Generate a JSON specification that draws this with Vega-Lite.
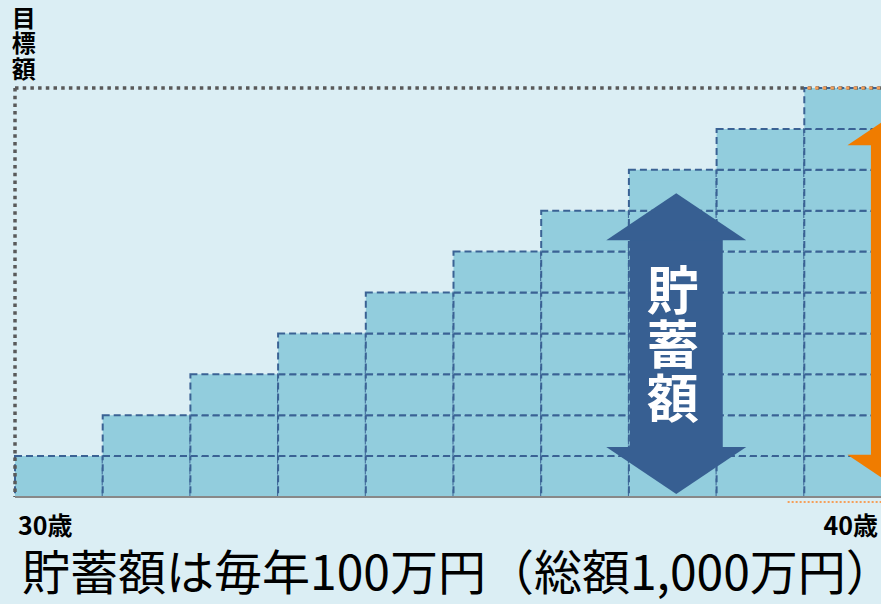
{
  "$schema": "https://vega.github.io/schema/vega-lite/v6.json",
  "width": 866,
  "height": 409,
  "autosize": "none",
  "padding": {"left": 15, "top": 88, "right": 0, "bottom": 107},
  "background": "#dbeef4",
  "config": {"view": {"stroke": null}, "font": "Noto Sans CJK JP"},
  "resolve": {"scale": {"x": "independent"}},
  "layer": [
    {
      "data": {"values": [
        {"age": 30, "amount": 100},
        {"age": 31, "amount": 100}, {"age": 31, "amount": 100},
        {"age": 32, "amount": 100}, {"age": 32, "amount": 100}, {"age": 32, "amount": 100},
        {"age": 33, "amount": 100}, {"age": 33, "amount": 100}, {"age": 33, "amount": 100}, {"age": 33, "amount": 100},
        {"age": 34, "amount": 100}, {"age": 34, "amount": 100}, {"age": 34, "amount": 100}, {"age": 34, "amount": 100}, {"age": 34, "amount": 100},
        {"age": 35, "amount": 100}, {"age": 35, "amount": 100}, {"age": 35, "amount": 100}, {"age": 35, "amount": 100}, {"age": 35, "amount": 100}, {"age": 35, "amount": 100},
        {"age": 36, "amount": 100}, {"age": 36, "amount": 100}, {"age": 36, "amount": 100}, {"age": 36, "amount": 100}, {"age": 36, "amount": 100}, {"age": 36, "amount": 100}, {"age": 36, "amount": 100},
        {"age": 37, "amount": 100}, {"age": 37, "amount": 100}, {"age": 37, "amount": 100}, {"age": 37, "amount": 100}, {"age": 37, "amount": 100}, {"age": 37, "amount": 100}, {"age": 37, "amount": 100}, {"age": 37, "amount": 100},
        {"age": 38, "amount": 100}, {"age": 38, "amount": 100}, {"age": 38, "amount": 100}, {"age": 38, "amount": 100}, {"age": 38, "amount": 100}, {"age": 38, "amount": 100}, {"age": 38, "amount": 100}, {"age": 38, "amount": 100}, {"age": 38, "amount": 100},
        {"age": 39, "amount": 100}, {"age": 39, "amount": 100}, {"age": 39, "amount": 100}, {"age": 39, "amount": 100}, {"age": 39, "amount": 100}, {"age": 39, "amount": 100}, {"age": 39, "amount": 100}, {"age": 39, "amount": 100}, {"age": 39, "amount": 100}, {"age": 39, "amount": 100}
      ]},
      "mark": {"type": "bar", "fill": "#92cddd", "stroke": "#3a6294", "strokeWidth": 2, "strokeDash": [7, 4], "opacity": 1},
      "encoding": {
        "x": {"field": "age", "type": "ordinal", "scale": {"range": [0, 877], "paddingInner": 0, "paddingOuter": 0}, "axis": null},
        "y": {"field": "amount", "type": "quantitative", "stack": "zero", "scale": {"domain": [0, 1000], "nice": false, "zero": true}, "axis": null}
      }
    },
    {
      "data": {"values": [{"target": 1000}]},
      "layer": [
        {
          "mark": {"type": "rule", "color": "#595959", "strokeWidth": 3.5, "strokeDash": [3.5, 4.2]},
          "encoding": {
            "x": {"datum": 30, "type": "quantitative", "scale": {"domain": [30, 40], "range": [0, 877], "nice": false, "zero": false}, "axis": null},
            "x2": {"datum": 40.5},
            "y": {"datum": 1000, "type": "quantitative", "scale": {"domain": [0, 1000], "nice": false}, "axis": null}
          }
        },
        {
          "mark": {"type": "rule", "color": "#595959", "strokeWidth": 3.5, "strokeDash": [3.5, 4.2]},
          "encoding": {
            "x": {"datum": 30, "type": "quantitative"},
            "y": {"datum": 1000, "type": "quantitative"},
            "y2": {"datum": 0}
          }
        },
        {
          "mark": {"type": "rule", "color": "#888888", "strokeWidth": 2},
          "encoding": {
            "x": {"datum": 30, "type": "quantitative"},
            "x2": {"datum": 40.5},
            "y": {"datum": 0, "type": "quantitative"}
          }
        },
        {
          "mark": {"type": "rule", "color": "#f5a05a", "strokeWidth": 3, "strokeDash": [3.5, 4.2], "strokeDashOffset": 3.85},
          "encoding": {
            "x": {"datum": 38.99, "type": "quantitative"},
            "x2": {"datum": 40.5},
            "y": {"datum": 1000, "type": "quantitative"}
          }
        },
        {
          "mark": {"type": "rule", "color": "#f5a05a", "strokeWidth": 2, "strokeDash": [2, 2]},
          "encoding": {
            "x": {"datum": 38.81, "type": "quantitative"},
            "x2": {"datum": 40.5},
            "y": {"datum": -12, "type": "quantitative"}
          }
        },
        {
          "mark": {"type": "rule", "color": "#375f92", "strokeWidth": 93, "strokeCap": "butt"},
          "encoding": {
            "x": {"datum": 37.54, "type": "quantitative"},
            "y": {"datum": 122, "type": "quantitative"},
            "y2": {"datum": 630}
          }
        },
        {
          "mark": {"type": "point", "shape": "M -1 0 L 0 -0.67 L 1 0 Z", "size": 19600, "filled": true, "fill": "#375f92", "opacity": 1, "strokeWidth": 0},
          "encoding": {
            "x": {"datum": 37.54, "type": "quantitative"},
            "y": {"datum": 628, "type": "quantitative"}
          }
        },
        {
          "mark": {"type": "point", "shape": "M -1 0 L 0 0.67 L 1 0 Z", "size": 19600, "filled": true, "fill": "#375f92", "opacity": 1, "strokeWidth": 0},
          "encoding": {
            "x": {"datum": 37.54, "type": "quantitative"},
            "y": {"datum": 122, "type": "quantitative"}
          }
        },
        {
          "mark": {"type": "rule", "color": "#f07c00", "strokeWidth": 93, "strokeCap": "butt"},
          "encoding": {
            "x": {"datum": 40.29, "type": "quantitative"},
            "y": {"datum": 102, "type": "quantitative"},
            "y2": {"datum": 862}
          }
        },
        {
          "mark": {"type": "point", "shape": "M -1 0 L 0 -0.67 L 1 0 Z", "size": 19600, "filled": true, "fill": "#f07c00", "opacity": 1, "strokeWidth": 0},
          "encoding": {
            "x": {"datum": 40.29, "type": "quantitative"},
            "y": {"datum": 860, "type": "quantitative"}
          }
        },
        {
          "mark": {"type": "point", "shape": "M -1 0 L 0 0.67 L 1 0 Z", "size": 19600, "filled": true, "fill": "#f07c00", "opacity": 1, "strokeWidth": 0},
          "encoding": {
            "x": {"datum": 40.29, "type": "quantitative"},
            "y": {"datum": 103, "type": "quantitative"}
          }
        },
        {
          "mark": {"type": "text", "text": ["貯", "蓄", "額"], "fontSize": 52, "fontWeight": "bold", "lineHeight": 54, "color": "#ffffff", "align": "center", "baseline": "middle"},
          "encoding": {
            "x": {"datum": 37.5, "type": "quantitative"},
            "y": {"datum": 496, "type": "quantitative"}
          }
        },
        {
          "mark": {"type": "text", "text": ["目", "標", "額"], "fontSize": 24, "fontWeight": "bold", "lineHeight": 25.5, "color": "#000000", "align": "center", "baseline": "middle"},
          "encoding": {
            "x": {"datum": 30.1, "type": "quantitative"},
            "y": {"datum": 1167, "type": "quantitative"}
          }
        },
        {
          "mark": {"type": "text", "text": "30歳", "fontSize": 25, "fontWeight": "bold", "color": "#000000", "align": "left", "baseline": "middle"},
          "encoding": {
            "x": {"datum": 30.034, "type": "quantitative"},
            "y": {"datum": -74, "type": "quantitative"}
          }
        },
        {
          "mark": {"type": "text", "text": "40歳", "fontSize": 25, "fontWeight": "bold", "color": "#000000", "align": "right", "baseline": "middle"},
          "encoding": {
            "x": {"datum": 39.84, "type": "quantitative"},
            "y": {"datum": -74, "type": "quantitative"}
          }
        },
        {
          "mark": {"type": "text", "text": "貯蓄額は毎年100万円（総額1,000万円）", "fontSize": 48, "fontWeight": "normal", "color": "#000000", "align": "left", "baseline": "middle"},
          "encoding": {
            "x": {"datum": 30.08, "type": "quantitative"},
            "y": {"datum": -192, "type": "quantitative"}
          }
        }
      ]
    }
  ]
}
